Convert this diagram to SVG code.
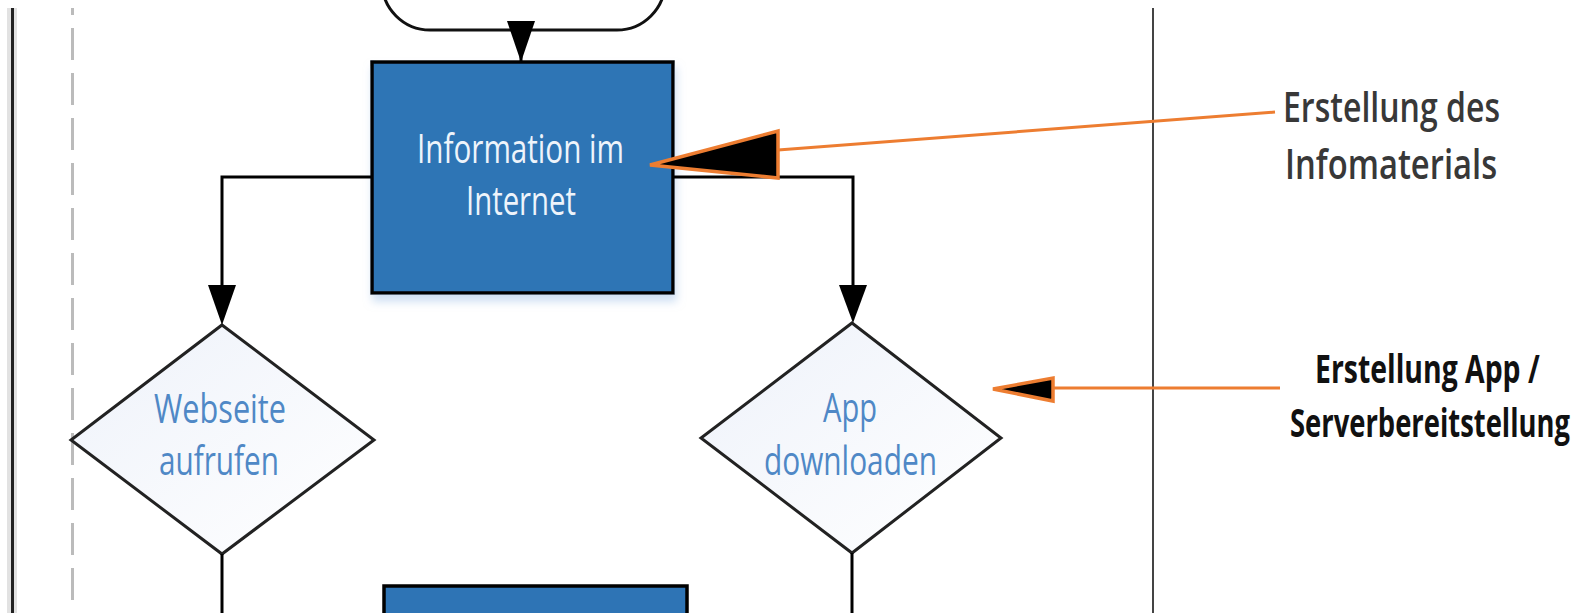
<svg xmlns="http://www.w3.org/2000/svg" width="1584" height="613" viewBox="0 0 1584 613">
<style>
.conn{fill:none;stroke:#000;stroke-width:3}
.ah{fill:#000;stroke:none}
.orange{fill:none;stroke:#ED7D31;stroke-width:3}
.oah{fill:#000;stroke:#ED7D31;stroke-width:3.5;stroke-linejoin:miter}
.box{fill:#2E74B5;stroke:#000;stroke-width:3.5}
.dia{fill:url(#dg);stroke:#222;stroke-width:3}
.t{font-family:"Open Sans","Liberation Sans",sans-serif;font-size:40px}
.wt{fill:#EEF4FB}
.bt{fill:#4F88C6}
.a1{fill:#383838;font-size:41px;font-weight:600}
.a2{fill:#111;font-weight:bold}
</style>
<defs>
<linearGradient id="dg" x1="0" y1="0" x2="1" y2="1">
<stop offset="0" stop-color="#EEF2FA"/>
<stop offset="1" stop-color="#FFFFFF"/>
</linearGradient>
<filter id="sh" x="-10%" y="-10%" width="120%" height="125%">
<feDropShadow dx="2" dy="7" stdDeviation="4" flood-color="#A9C6EA" flood-opacity="0.55"/>
</filter>
</defs>
<rect width="1584" height="613" fill="#fff"/>
<g id="lanes">
<line x1="12" y1="8" x2="12" y2="613" stroke="#E2E2E2" stroke-width="10"/>
<line x1="12.5" y1="8" x2="12.5" y2="613" stroke="#222" stroke-width="3"/>
<line x1="72.5" y1="-17" x2="72.5" y2="613" stroke="#BBB" stroke-width="3" stroke-dasharray="32 13"/>
<rect x="60" y="0" width="25" height="8" fill="#fff"/>
<line x1="1153" y1="8" x2="1153" y2="613" stroke="#444" stroke-width="2"/>
</g>
<g id="start">
<rect x="382" y="-100" width="283" height="130" rx="48" ry="48" fill="#fff" stroke="#111" stroke-width="3"/>
</g>
<g id="info">
<rect class="box" x="372" y="62" width="301" height="231" filter="url(#sh)"/>
<text class="t wt" x="417" y="163" textLength="207" lengthAdjust="spacingAndGlyphs">Information im</text>
<text class="t wt" x="466" y="215" textLength="110" lengthAdjust="spacingAndGlyphs">Internet</text>
</g>
<g id="webseite">
<polygon class="dia" points="222,325 374,440 222,554 71,440"/>
<text class="t bt" x="154" y="423" textLength="132" lengthAdjust="spacingAndGlyphs">Webseite</text>
<text class="t bt" x="159" y="475" textLength="120" lengthAdjust="spacingAndGlyphs">aufrufen</text>
</g>
<g id="app">
<polygon class="dia" points="852,323 1001,438 852,553 701,438"/>
<text class="t bt" x="823" y="422" textLength="54" lengthAdjust="spacingAndGlyphs">App</text>
<text class="t bt" x="764" y="475" textLength="173" lengthAdjust="spacingAndGlyphs">downloaden</text>
</g>
<g id="next">
<rect class="box" x="384" y="586" width="303" height="60"/>
</g>
<g id="note1">
<text class="t a1" transform="translate(1283,122) scale(0.7,1)" textLength="310" lengthAdjust="spacingAndGlyphs">Erstellung des</text>
<text class="t a1" transform="translate(1285,179) scale(0.7,1)" textLength="303" lengthAdjust="spacingAndGlyphs">Infomaterials</text>
</g>
<g id="note2">
<text class="t a2" transform="translate(1315,383) scale(0.7,1)" textLength="321" lengthAdjust="spacingAndGlyphs">Erstellung App /</text>
<text class="t a2" transform="translate(1290,437) scale(0.7,1)" textLength="400" lengthAdjust="spacingAndGlyphs">Serverbereitstellung</text>
</g>
<g id="connectors">
<line class="conn" x1="521" y1="30" x2="521" y2="62"/>
<polygon class="ah" points="507,21 535,21 521,62"/>
<polyline class="conn" points="372,177 222,177 222,300"/>
<polygon class="ah" points="208,285 236,285 222,325"/>
<polyline class="conn" points="673,177 853,177 853,300"/>
<polygon class="ah" points="839,285 867,285 853,323"/>
<line class="conn" x1="222" y1="554" x2="222" y2="613"/>
<line class="conn" x1="852" y1="553" x2="852" y2="613"/>
<line class="orange" x1="778" y1="150" x2="1275" y2="112"/>
<polygon class="oah" points="650,165 778,131 778,178"/>
<line class="orange" x1="1053" y1="388" x2="1280" y2="388"/>
<polygon class="oah" points="993,389 1053,378 1053,401"/>
</g>
</svg>
